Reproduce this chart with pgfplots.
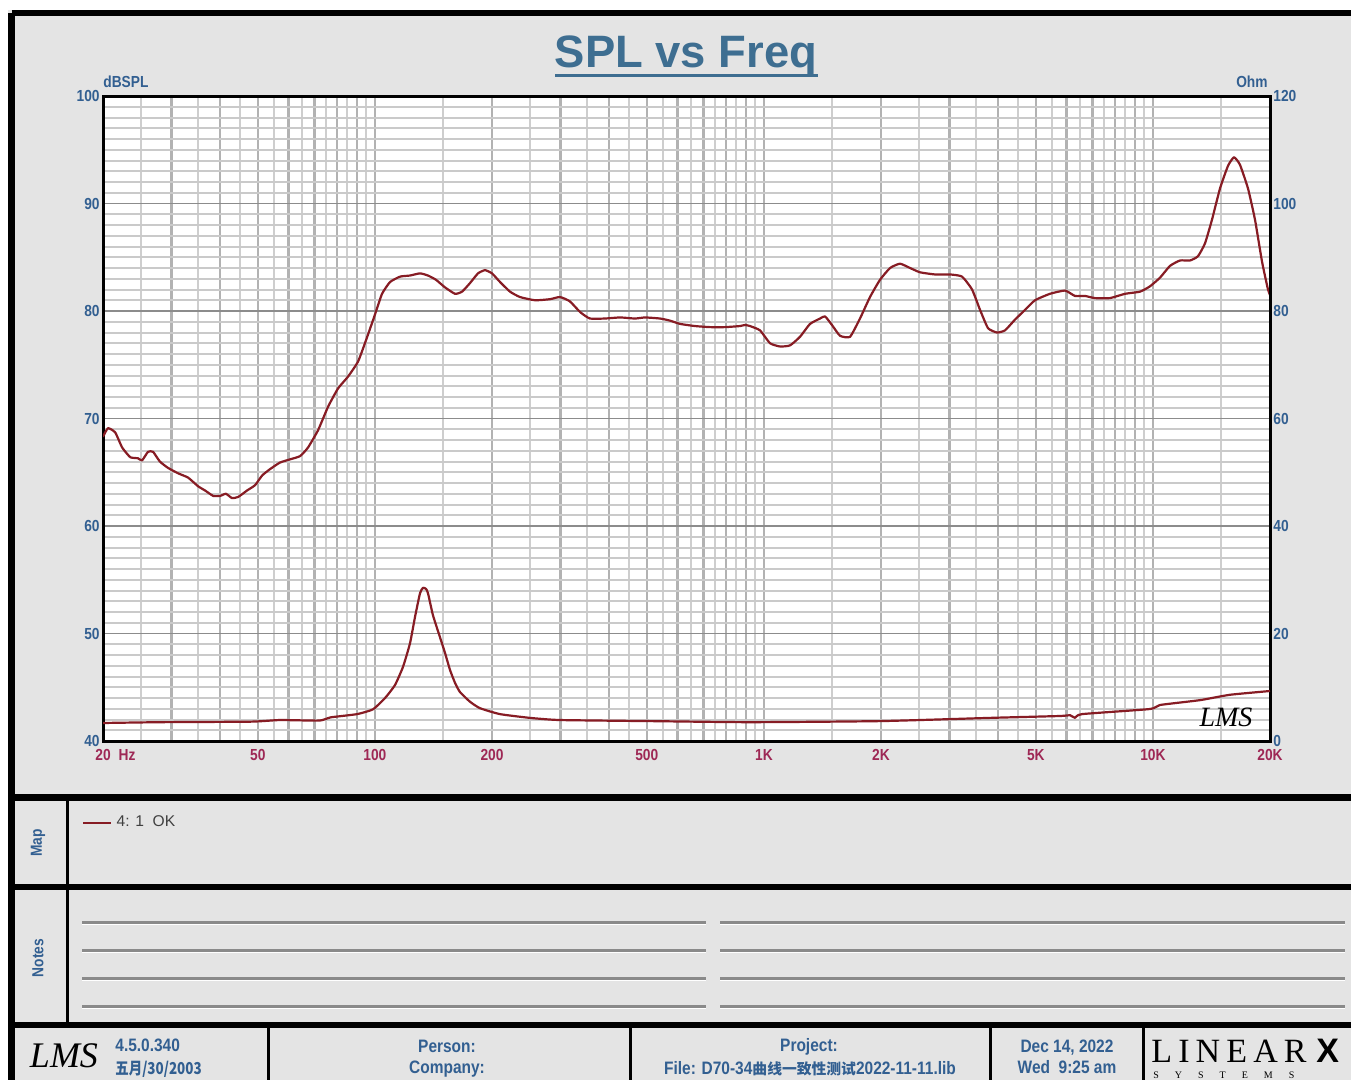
\documentclass[border=0pt]{standalone}
\usepackage{pgfplots}
\pgfplotsset{compat=1.18}
\usepackage{fontspec}
\setmainfont{Liberation Sans}
\newfontfamily\narrowfont[FakeStretch=0.86]{Liberation Sans}
\newfontfamily\cjkfont{Noto Sans CJK SC}
\newfontfamily\cjknarrow[FakeStretch=0.82]{Noto Sans CJK SC}
\newfontfamily\seriffont{Liberation Serif}
\definecolor{bgray}{RGB}{228,228,228}
\definecolor{curve}{RGB}{135,28,36}
\definecolor{lblue}{RGB}{50,95,145}
\definecolor{ttl}{RGB}{62,110,145}
\definecolor{xlab}{RGB}{158,40,85}
\definecolor{vmaj}{RGB}{178,178,178}
\definecolor{vmin}{RGB}{206,206,206}
\definecolor{hmin}{RGB}{202,202,202}
\definecolor{hmaj}{RGB}{140,140,140}
\definecolor{noteline}{RGB}{138,138,138}
\newcommand{\lab}{\narrowfont\bfseries\fontsize{8}{8}\selectfont}
\newcommand{\foot}{\narrowfont\bfseries\fontsize{9}{9}\selectfont}
\newcommand{\cjk}[1]{{\cjkfont\bfseries\fontsize{7.4}{7.4}\selectfont #1}}
\begin{document}
\begin{tikzpicture}[x=0.5pt,y=-0.5pt]
\useasboundingbox (0,0) rectangle (1351,1080);
\fill[white] (0,0) rectangle (1351,1080);
\fill[bgray] (8,10) rectangle (1400,1100);
% title
\node[anchor=base, text=ttl, font=\bfseries\fontsize{22.7}{24}\selectfont, inner sep=0pt] at (686,68) {SPL vs Freq};
\draw[ttl, line width=1.5pt] (555,75.5) -- (818,75.5);
\node[anchor=base west, text=lblue, font=\lab, inner sep=0pt] at (103,88) {dBSPL};
\node[anchor=base east, text=lblue, font=\lab, inner sep=0pt] at (1268,88) {Ohm};
\begin{axis}[
  at={(51.5pt,-370.5pt)}, anchor=south west, scale only axis,
  width=583.5pt, height=322.5pt,
  xmode=log, xmin=20, xmax=20000, ymin=40, ymax=100,
  axis background/.style={fill=white},
  axis line style={line width=1.5pt, black},
  grid=both,
  xtick={20,30,40,50,60,70,80,90,100,200,300,400,500,600,700,800,900,1000,2000,3000,4000,5000,6000,7000,8000,9000,10000,20000},
  xticklabels={20\rlap{\hspace{4pt}Hz},,,50,,,,,100,200,,,500,,,,,1K,2K,,,5K,,,,,10K,20K},
  minor xtick={25,35,45,55,65,75,85,95,150,250,350,450,550,650,750,850,950,1500,2500,3500,4500,5500,6500,7500,8500,9500,15000},
  ytick={40,50,60,70,80,90,100},
  yticklabels={40,50,60,70,80,90,100},
  minor y tick num=9,
  major tick length=0pt, minor tick length=0pt,
  major x grid style={draw=vmaj, line width=1.2pt},
  minor x grid style={draw=vmin, line width=1pt},
  major y grid style={draw=hmaj, line width=0.6pt},
  minor y grid style={draw=hmin, line width=1pt},
  xticklabel style={font=\lab, text=xlab, inner sep=1pt, yshift=-3pt},
  yticklabel style={font=\lab, text=lblue, inner sep=1.5pt},
  legend style={at={(-0.018,-0.127)}, anchor=west, draw=none, fill=none, inner sep=0pt,
    font=\fontsize{7.8}{8}\selectfont, text=black!75},
  legend image code/.code={\draw[#1] (0pt,0pt) -- (14pt,0pt);},
]
\addplot[curve, line width=1.1pt, line join=round, smooth, tension=0.3] coordinates {
(20,68.3)(20.6,69.1)(21.5,68.7)(22.4,67.3)(23.5,66.4)(24.6,66.3)(25.2,66.1)(26.1,66.9)(26.9,66.9)(28.0,66.0)(29.4,65.4)(31.2,64.9)(33.1,64.5)(35.1,63.7)(36.6,63.3)(38.4,62.8)(40.0,62.8)(41.4,63.0)(42.9,62.6)(44.5,62.7)(46.9,63.3)(49.2,63.8)(51.3,64.7)(53.8,65.3)(57.0,65.9)(60.5,66.2)(64.2,66.5)(67.3,67.3)(71.4,68.9)(75.8,71.1)(80.4,72.8)(85.3,73.9)(90.5,75.3)(94.9,77.3)(100.1,79.7)(104.3,81.6)(109.4,82.7)(116.1,83.2)(123.1,83.3)(130.6,83.5)(136.9,83.3)(143.6,82.9)(151.4,82.2)(160.7,81.6)(167.5,81.8)(175.6,82.6)(184.1,83.5)(191.9,83.8)(200,83.5)(209.7,82.7)(222.5,81.8)(236,81.3)(258,81.0)(282,81.1)(299,81.3)(317,80.9)(337,79.9)(357,79.3)(390,79.3)(427,79.4)(466,79.3)(495,79.4)(541,79.3)(574,79.1)(609,78.8)(665,78.6)(727,78.5)(794,78.5)(868,78.6)(894,78.7)(921,78.6)(977,78.2)(1037,77.0)(1100,76.7)(1167,76.8)(1238,77.6)(1314,78.8)(1394,79.3)(1436,79.5)(1496,78.7)(1569,77.7)(1665,77.6)(1766,79.3)(1874,81.3)(1988,82.9)(2110,84.0)(2238,84.4)(2375,84.0)(2520,83.6)(2754,83.4)(3009,83.4)(3231,83.2)(3428,82.0)(3595,80.1)(3769,78.4)(3975,78.0)(4167,78.2)(4421,79.2)(4690,80.1)(4976,81.0)(5438,81.6)(5944,81.9)(6306,81.4)(6690,81.4)(7098,81.2)(7756,81.2)(8478,81.6)(9266,81.8)(9830,82.3)(10428,83.1)(11066,84.2)(11740,84.7)(12456,84.7)(13060,85.1)(13612,86.3)(14188,88.5)(14876,91.4)(15596,93.5)(16160,94.3)(16744,93.6)(17556,91.4)(18300,88.5)(19074,84.6)(19764,82.0)(20000,81.5)
};
\addlegendentry{4: 1\ \ OK}
\end{axis}
\begin{axis}[
  at={(51.5pt,-370.5pt)}, anchor=south west, scale only axis,
  width=583.5pt, height=322.5pt,
  xmode=log, xmin=20, xmax=20000, ymin=0, ymax=120,
  hide x axis, axis y line*=right,
  y axis line style={line width=1.5pt, black},
  ytick={0,20,40,60,80,100,120},
  yticklabels={0,20,40,60,80,100,120},
  major tick length=0pt,
  yticklabel style={font=\lab, text=lblue, inner sep=1.5pt, anchor=west},
]
\addplot[curve, line width=1.1pt, line join=round, smooth, tension=0.3] coordinates {
(20,3.35)(28,3.5)(48,3.6)(57,3.9)(72,3.8)(77,4.4)(90,5.0)(98.9,5.9)(106.2,8.0)(112.6,10.4)(118.1,13.8)(123.1,18.2)(126.8,23.1)(130.6,27.5)(132.9,28.5)(135.3,28.3)(136.9,27.5)(141.0,23.4)(147.0,19.3)(151.4,16.4)(156.0,13.2)(160.7,10.8)(165.5,9.1)(175.6,7.3)(186.3,6.1)(209.7,5.0)(250.4,4.3)(299,3.9)(510,3.7)(921,3.5)(1988,3.7)(3813,4.3)(5771,4.65)(6123,4.8)(6306,4.3)(6573,5.0)(9830,5.95)(10428,6.7)(13215,7.6)(15784,8.6)(20000,9.3)
};
\end{axis}
% LMS watermark in plot
\node[font=\seriffont\itshape\fontsize{14}{14}\selectfont, inner sep=0pt] at (1226,717) {LMS};
% frame
\draw[line width=3.5pt] (11.5,13) -- (11.5,1100);
\draw[line width=3pt] (11.5,13) -- (1400,13);
\draw[line width=3.3pt] (11.5,797.5) -- (1400,797.5);
\draw[line width=2.6pt] (11.5,887) -- (1400,887);
\draw[line width=2.6pt] (11.5,1025) -- (1400,1025);
\draw[line width=1.5pt] (67.5,799) -- (67.5,1024);
\foreach \xx in {268,630,990,1143} \draw[line width=1.5pt] (\xx,1026) -- (\xx,1085);
% panel labels
\node[rotate=90, text=lblue, font=\lab] at (38,843) {Map};
\node[rotate=90, text=lblue, font=\lab] at (38,958) {Notes};
% notes lines
\foreach \yy in {922,950,978,1006} {
  \draw[noteline, line width=1.5pt] (82,\yy) -- (706,\yy);
  \draw[noteline, line width=1.5pt] (720,\yy) -- (1345,\yy);
  \draw[white, line width=0.6pt] (82,\yy+2.6) -- (706,\yy+2.6);
  \draw[white, line width=0.6pt] (720,\yy+2.6) -- (1345,\yy+2.6);
}
% footer
\node[font=\seriffont\itshape\fontsize{18}{18}\selectfont, inner sep=0pt] at (64,1056) {LMS};
\node[anchor=base west, text=lblue, font=\foot, inner sep=0pt] at (115,1051) {4.5.0.340};
\node[anchor=base west, text=lblue, font=\cjknarrow\bfseries\fontsize{8.2}{8.2}\selectfont, inner sep=0pt] at (115,1074) {五月/30/2003};
\node[anchor=base, text=lblue, font=\foot, inner sep=0pt] at (447,1052) {Person:};
\node[anchor=base, text=lblue, font=\foot, inner sep=0pt] at (447,1073) {Company:};
\node[anchor=base, text=lblue, font=\foot, inner sep=0pt] at (809,1051) {Project:};
\node[anchor=base, text=lblue, font=\foot, inner sep=0pt] at (810,1074) {File: D70-34\cjk{曲线一致性测试}2022-11-11.lib};
\node[anchor=base, text=lblue, font=\foot, inner sep=0pt] at (1067,1052) {Dec 14, 2022};
\node[anchor=base, text=lblue, font=\foot, inner sep=0pt] at (1067,1073) {Wed\ \ 9:25 am};
\node[anchor=base west, font=\seriffont\fontsize{17}{17}\selectfont\addfontfeature{LetterSpace=18}, inner sep=0pt] at (1151,1062) {LINEAR};
\node[anchor=base west, font=\bfseries\fontsize{17}{17}\selectfont, inner sep=0pt] at (1316,1062) {X};
\node[anchor=base west, font=\seriffont\fontsize{5}{5}\selectfont\addfontfeature{LetterSpace=160}, inner sep=0pt] at (1153,1078) {SYSTEMS};
\end{tikzpicture}
\end{document}
